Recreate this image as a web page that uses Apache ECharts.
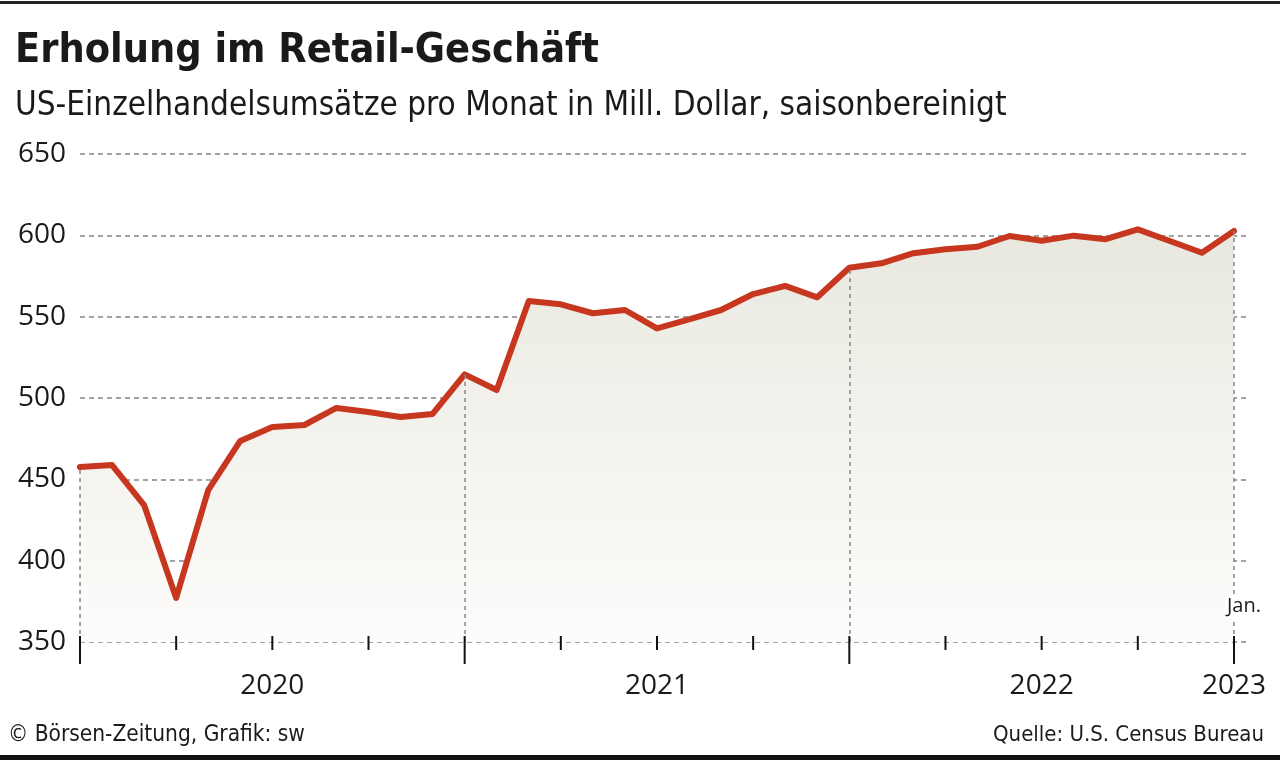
<!DOCTYPE html>
<html>
<head>
<meta charset="utf-8">
<script src="https://cdn.jsdelivr.net/npm/echarts@6/dist/echarts.min.js"></script>
<style>
html,body{margin:0;padding:0;background:#fff;}
#chart{width:1280px;height:760px;}
</style>
</head>
<body>
<div id="chart"></div>
<script>
// ---- data ----
const months = [
  'Jan 2020','Feb 2020','Mär 2020','Apr 2020','Mai 2020','Jun 2020','Jul 2020','Aug 2020','Sep 2020','Okt 2020','Nov 2020','Dez 2020',
  'Jan 2021','Feb 2021','Mär 2021','Apr 2021','Mai 2021','Jun 2021','Jul 2021','Aug 2021','Sep 2021','Okt 2021','Nov 2021','Dez 2021',
  'Jan 2022','Feb 2022','Mär 2022','Apr 2022','Mai 2022','Jun 2022','Jul 2022','Aug 2022','Sep 2022','Okt 2022','Nov 2022','Dez 2022',
  'Jan 2023'
];
const sales = [
  457.6, 458.8, 434.2, 377.1, 443.4, 473.6, 482.2, 483.4, 493.9, 491.4, 488.3, 490.2,
  514.5, 504.9, 559.6, 557.6, 552.1, 554.1, 542.8, 548.4, 554.1, 563.9, 568.9, 561.9,
  580.1, 582.8, 589.0, 591.4, 593.0, 599.6, 596.7, 599.8, 597.6, 603.7, 596.5, 589.3,
  602.7
];
const yearStartMonths = [0, 12, 24, 36];          // Jan of each year (month index)
const quarterMonths = [0,3,6,9,12,15,18,21,24,27,30,33,36];
const xLabelMonths = [6, 18, 30, 36];
const xLabels = ['2020', '2021', '2022', '2023'];
const yMin = 350, yMax = 650, yStep = 50;
const lastLabel = 'Jan.';

// ---- chart ----
const FONT = "'Open Sans', 'Noto Sans', sans-serif";
const COND = "'Liberation Sans Narrow', 'DejaVu Sans Condensed', 'Open Sans', sans-serif";
const TXT = '#1a1a1a';
const seriesData = sales.map((v, i) => [i, v]);

const chart = echarts.init(document.getElementById('chart'), null, {renderer: 'canvas'});
chart.setOption({
  animation: false,
  backgroundColor: '#ffffff',
  title: [
    {text: 'Erholung im Retail-Geschäft', left: 15, top: 31, padding: 0,
     textStyle: {fontFamily: COND, fontWeight: 'bold', fontSize: 41, color: TXT}},
    {text: 'US-Einzelhandelsumsätze pro Monat in Mill. Dollar, saisonbereinigt', left: 15, top: 90, padding: 0,
     textStyle: {fontFamily: COND, fontWeight: 'normal', fontSize: 33, color: TXT}},
    {text: '© Börsen-Zeitung, Grafik: sw', left: 8, top: 724, padding: 0,
     textStyle: {fontFamily: COND, fontWeight: 'normal', fontSize: 22.5, color: TXT}},
    {text: 'Quelle: U.S. Census Bureau', right: 16, top: 724, padding: 0,
     textStyle: {fontFamily: COND, fontWeight: 'normal', fontSize: 22, color: TXT}}
  ],
  graphic: [
    {type: 'rect', shape: {x: 0, y: 1, width: 1280, height: 3}, style: {fill: '#222'}},
    {type: 'rect', shape: {x: 0, y: 755, width: 1280, height: 5}, style: {fill: '#111'}}
  ],
  grid: {left: 80, right: 30, top: 154, bottom: 118},
  xAxis: {
    type: 'value', min: 0, max: 36.5, interval: 6,
    axisLine: {show: false}, axisTick: {show: false}, splitLine: {show: false},
    axisLabel: {
      margin: 30, fontSize: 28, color: TXT, fontFamily: FONT,
      formatter: v => { const k = xLabelMonths.indexOf(v); return k >= 0 ? xLabels[k] : ''; }
    }
  },
  yAxis: {
    type: 'value', min: yMin, max: yMax, interval: yStep,
    axisLine: {show: false}, axisTick: {show: false},
    splitLine: {lineStyle: {type: [5, 4], color: '#858585', width: 1.5}},
    axisLabel: {margin: 14, fontSize: 28, color: TXT, fontFamily: FONT}
  },
  series: [
    {
      type: 'line', data: seriesData, z: 1, symbol: 'none', silent: true,
      lineStyle: {width: 0},
      areaStyle: {
        color: new echarts.graphic.LinearGradient(0, 0, 0, 1, [
          {offset: 0, color: '#e9e8df'},
          {offset: 1, color: '#fdfcfb'}
        ]),
        opacity: 1
      },
      markLine: {
        silent: true, symbol: ['none', 'none'], label: {show: false},
        lineStyle: {type: [4, 4], color: '#858585', width: 1.5},
        data: yearStartMonths.map(m => [{coord: [m, yMin]}, {coord: [m, sales[m]]}])
      }
    },
    {
      type: 'line', data: seriesData, z: 3, symbol: 'none', silent: true,
      lineStyle: {width: 6, color: '#c7371f', join: 'round', cap: 'round'},
      markPoint: {
        silent: true, symbol: 'circle', symbolSize: 0,
        data: [{coord: [sales.length - 1, yMin]}],
        label: {
          show: true, formatter: lastLabel, offset: [10, -36],
          fontSize: 20, color: TXT, fontFamily: FONT,
          backgroundColor: '#ffffff', padding: [2, 2]
        }
      }
    },
    {
      type: 'custom', z: 5, silent: true, clip: false,
      data: quarterMonths.map(m => [m, yMin]),
      encode: {x: 0, y: 1},
      renderItem: (params, api) => {
        const m = api.value(0);
        const p = api.coord([m, api.value(1)]);
        const major = yearStartMonths.indexOf(m) >= 0;
        return {
          type: 'line',
          shape: {x1: p[0], y1: p[1] - 6, x2: p[0], y2: p[1] + (major ? 22 : 8)},
          style: {stroke: '#111', lineWidth: 2}
        };
      }
    }
  ]
});
</script>
</body>
</html>
